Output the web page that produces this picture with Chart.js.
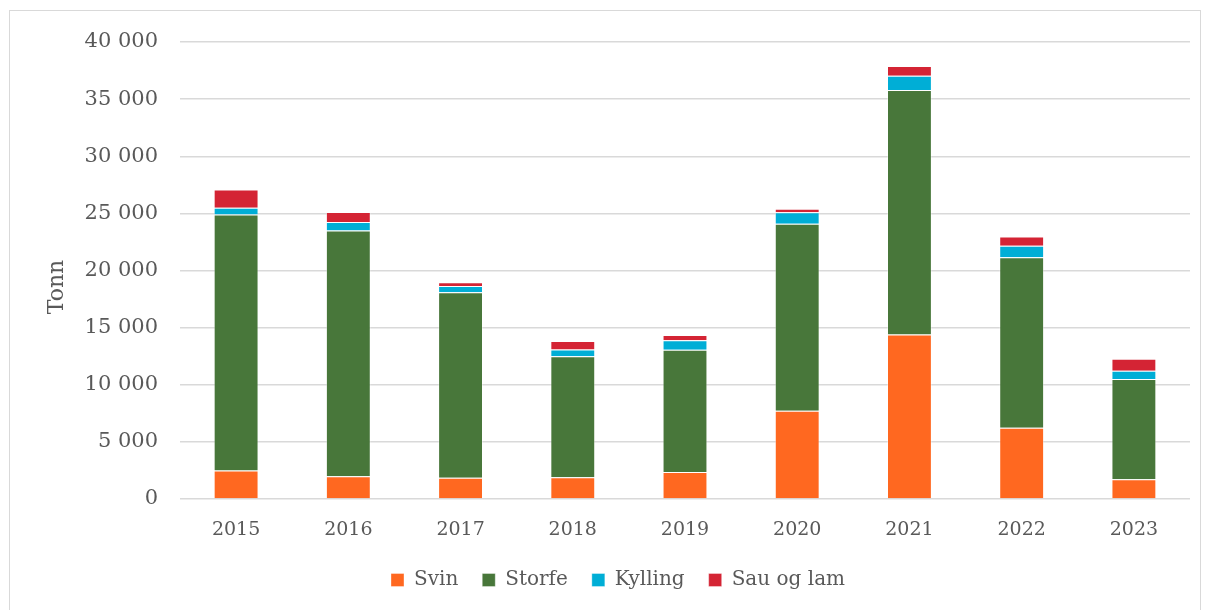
<!DOCTYPE html>
<html lang="no">
<head>
    <meta charset="UTF-8">
    <title>Tonn per år</title>
    <script src="https://cdn.jsdelivr.net/npm/chart.js"></script>
    <style>
        body { margin: 0; background: #ffffff; }
        #frame { position: absolute; left: 9px; top: 10px; width: 1190px; height: 600px; border: 1px solid #d9d9d9; }
        #wrap { position: absolute; left: 0; top: 0; width: 1208px; height: 610px; }
    </style>
</head>
<body>
    <div id="frame"></div>
    <div id="wrap">
        <canvas id="barChart" width="1208" height="610"></canvas>
    </div>
    <script>
        // Data (tonn)
        let years = ["2015", "2016", "2017", "2018", "2019", "2020", "2021", "2022", "2023"];
        let svin = [2500, 2000, 1850, 1900, 2370, 7720, 14390, 6230, 1730];
        let storfe = [22400, 21500, 16250, 10600, 10700, 16380, 21400, 14940, 8770];
        let kylling = [600, 750, 550, 580, 820, 990, 1260, 990, 730];
        let sauOgLam = [1600, 880, 330, 750, 470, 320, 850, 820, 1050];
        let yTicks = [0, 5000, 10000, 15000, 20000, 25000, 30000, 35000, 40000];

        const textColor = "#595959";
        const fontFam = "'DejaVu Serif', serif";

        function ds(label, data, color) {
            return {
                label: label,
                data: data,
                backgroundColor: color,
                borderColor: "rgba(255,255,255,0.35)",
                borderWidth: 1,
                barPercentage: 0.8,
                categoryPercentage: 0.5
            };
        }

        // y-axis title drawn by hand (sits a bit below the axis middle in the original)
        const yTitle = {
            id: "yTitle",
            afterDraw(chart) {
                const ctx = chart.ctx;
                ctx.save();
                ctx.translate(57, 287);
                ctx.rotate(-Math.PI / 2);
                ctx.fillStyle = textColor;
                ctx.font = "22px " + fontFam;
                ctx.textAlign = "center";
                ctx.textBaseline = "middle";
                ctx.fillText("Tonn", 0, 0);
                ctx.restore();
            }
        };

        let barData = {
            labels: years,
            datasets: [
                ds("Svin", svin, "#ff6820"),
                ds("Storfe", storfe, "#48773a"),
                ds("Kylling", kylling, "#00aed6"),
                ds("Sau og lam", sauOgLam, "#d42434")
            ]
        };

        let barConfig = {
            type: "bar",
            data: barData,
            plugins: [yTitle],
            options: {
                responsive: false,
                animation: false,
                layout: { padding: { left: 46, right: 18, top: 42, bottom: 10 } },
                plugins: {
                    legend: {
                        position: "bottom",
                        labels: {
                            color: textColor,
                            font: { family: fontFam, size: 20 },
                            boxWidth: 13,
                            boxHeight: 13,
                            padding: 24
                        }
                    },
                    tooltip: { enabled: false }
                },
                scales: {
                    x: {
                        stacked: true,
                        afterFit: function(scale) {
                            scale.height = 47;
                        },
                        grid: { display: false, drawTicks: false },
                        border: { display: false },
                        ticks: {
                            color: textColor,
                            font: { family: fontFam, size: 19 },
                            padding: 20
                        }
                    },
                    y: {
                        stacked: true,
                        min: 0,
                        max: 40000,
                        afterBuildTicks: function(scale) {
                            scale.ticks = yTicks.map(v => ({ value: v }));
                        },
                        afterFit: function(scale) {
                            scale.width = 134;
                        },
                        grid: { color: "#d9d9d9", lineWidth: 1.5, drawTicks: false },
                        border: { display: false },
                        ticks: {
                            color: textColor,
                            font: { family: fontFam, size: 21 },
                            padding: 22,
                            callback: function(v) {
                                return String(v).replace(/\B(?=(\d{3})+(?!\d))/g, " ");
                            }
                        }
                    }
                }
            }
        };

        let barChart = new Chart(document.getElementById("barChart"), barConfig);
    </script>
</body>
</html>
